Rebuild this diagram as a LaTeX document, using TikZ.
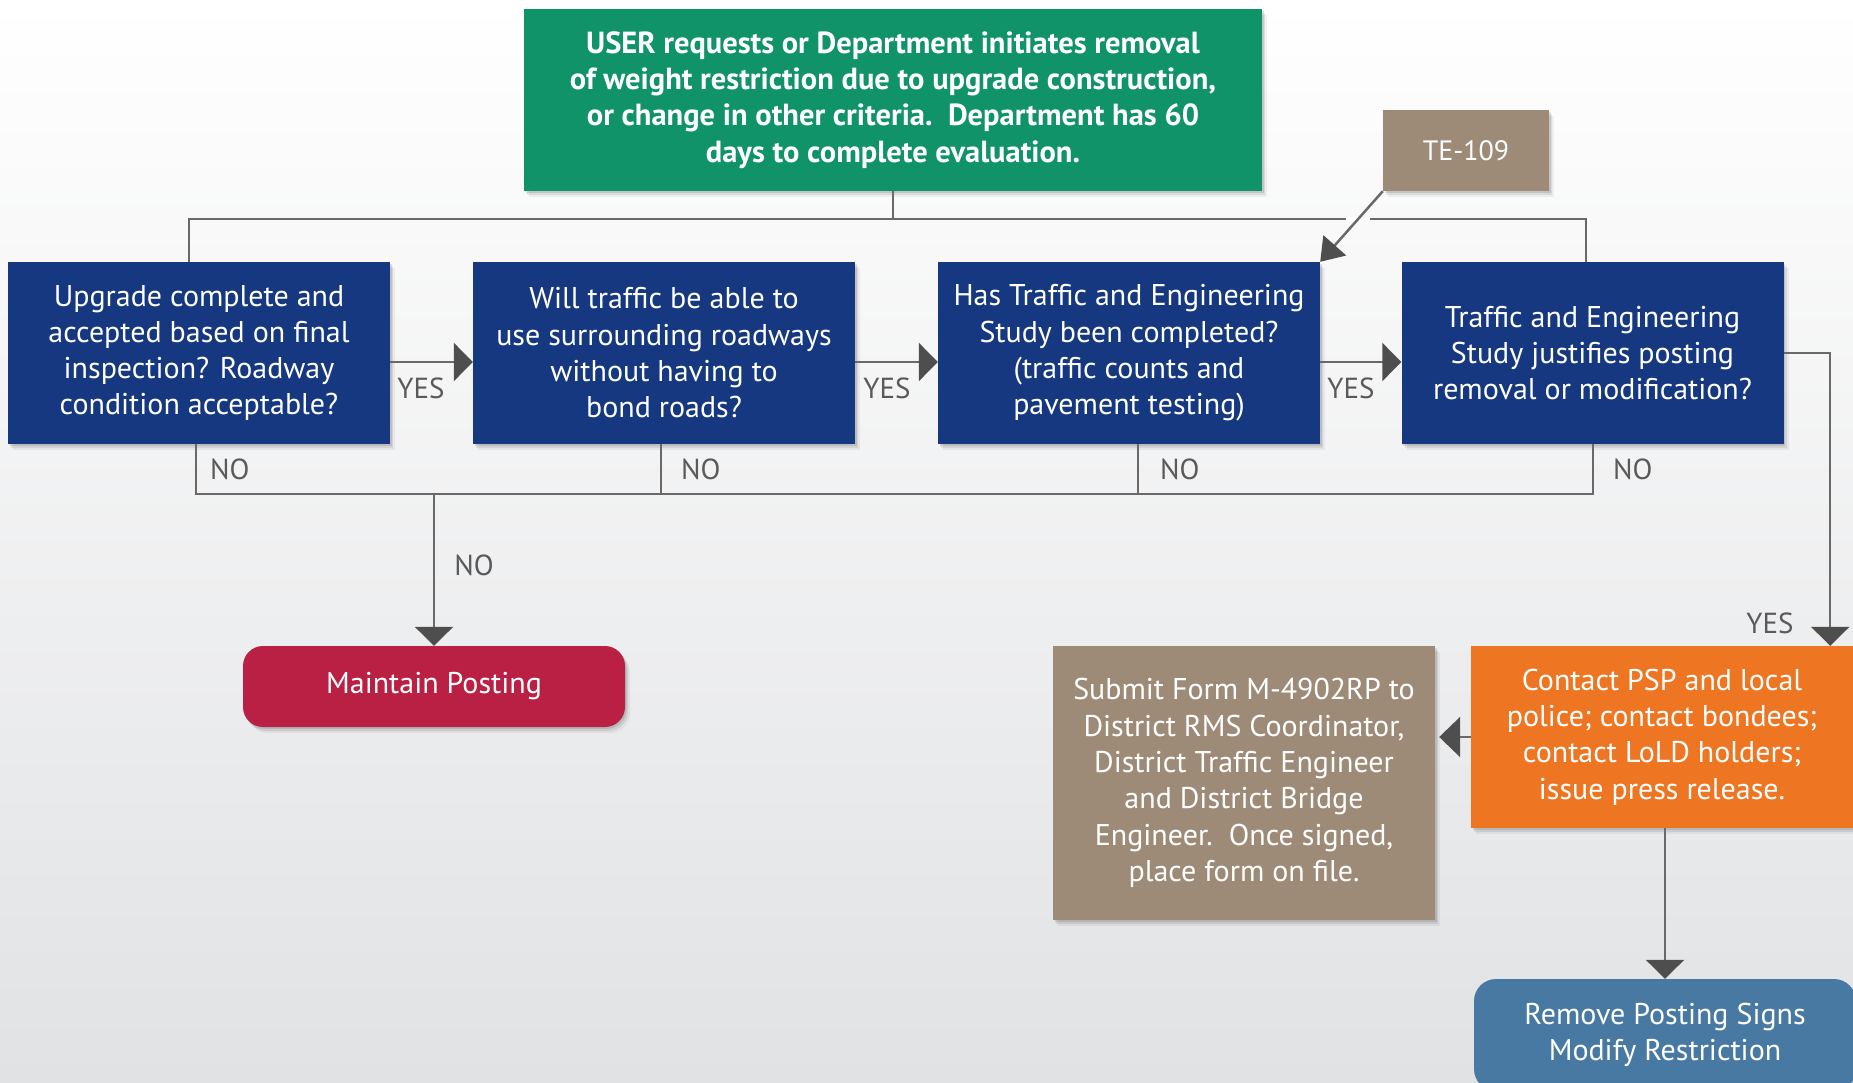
\documentclass[tikz,border=0pt]{standalone}
\usepackage{fontspec}
\setmainfont{PT Sans}
\usetikzlibrary{arrows.meta,shadows,calc}
\definecolor{cgreen}{RGB}{17,147,106}
\definecolor{cblue}{RGB}{22,56,128}
\definecolor{cbrown}{RGB}{158,139,119}
\definecolor{ccrimson}{RGB}{186,31,68}
\definecolor{corange}{RGB}{238,118,35}
\definecolor{csteel}{RGB}{71,121,163}
\definecolor{cline}{RGB}{105,105,105}
\definecolor{ctip}{RGB}{78,78,78}
\definecolor{clabel}{RGB}{90,90,90}
\definecolor{bgbot}{RGB}{225,226,228}
\definecolor{bgmid}{RGB}{238,239,240}
\tikzset{
  softshadow/.style={
    drop shadow={shadow xshift=1.5pt, shadow yshift=-2pt, opacity=0.10, fill=black},
    drop shadow={shadow xshift=3pt, shadow yshift=-4pt, opacity=0.08, fill=black},
    drop shadow={shadow xshift=5pt, shadow yshift=-6pt, opacity=0.05, fill=black}},
  box/.style={rectangle, draw=none, text=white, align=center, inner sep=0pt,
    minimum width=382pt, minimum height=182pt,
    font=\fontsize{30}{36.3}\selectfont, softshadow},
  conn/.style={draw=cline, line width=2.5pt},
  arr/.style={conn, -{Triangle[length=19pt,width=38pt,color=ctip]}},
  lbl/.style={text=clabel, font=\fontsize{29}{34}\selectfont, inner sep=0pt}
}
\begin{document}
\begin{tikzpicture}[x=1pt,y=-1pt]
\useasboundingbox (0,0) rectangle (1853,1082);
\clip (0,0) rectangle (1853,1082);
\shade[top color=white, middle color=bgmid, bottom color=bgbot] (0,0) rectangle (1853,1082);

% nodes
\node[box, fill=cgreen, minimum width=738pt, font=\bfseries\fontsize{30.5}{36.3}\selectfont] (green) at (893,100)
  {USER requests or Department initiates removal\\of weight restriction due to upgrade construction,\\or change in other criteria.\ \ Department has 60\\days to complete evaluation.};
\node[box, fill=cbrown, minimum width=166pt, minimum height=81pt, font=\fontsize{28}{34}\selectfont] (te) at (1466,150.5) {TE-109};
\node[box, fill=cblue] (b1) at (199,353) {Upgrade complete and\\accepted based on final\\inspection? Roadway\\condition acceptable?};
\node[box, fill=cblue] (b2) at (664,353) {Will traffic be able to\\use surrounding roadways\\without having to\\bond roads?};
\node[box, fill=cblue] (b3) at (1129,353) {Has Traffic and Engineering\\Study been completed?\\(traffic counts and\\pavement testing)};
\node[box, fill=cblue] (b4) at (1592.5,353) {Traffic and Engineering\\Study justifies posting\\removal or modification?};
\node[box, fill=ccrimson, rounded corners=20pt, minimum height=81pt] (mp) at (434,686.5) {Maintain Posting};
\node[box, fill=cbrown, minimum height=274pt] (sub) at (1244,783) {Submit Form M-4902RP to\\District RMS Coordinator,\\District Traffic Engineer\\and District Bridge\\Engineer.\ \ Once signed,\\place form on file.};
\node[box, fill=corange] (or) at (1662,737) {Contact PSP and local\\police; contact bondees;\\contact LoLD holders;\\issue press release.};
\node[box, fill=csteel, rounded corners=22pt, minimum height=112pt] (rm) at (1665,1035) {Remove Posting Signs\\Modify Restriction};

% top distribution
\draw[conn] (green.south) -- ++(0,28) coordinate (tj);
\draw[conn] (tj) -| ($(b1.north)+(-10,0)$);
\draw[conn] (tj) -| ($(b4.north)+(-6.5,0)$);
\draw[white, line width=4pt] (1346,219) -- (1370,219);
\draw[conn, -{Triangle[length=22pt,width=30pt,color=ctip]}] (te.south west) -- (b3.north east);

% YES arrows
\draw[arr] ($(b1.east)+(0,9)$) -- ($(b2.west)+(0,9)$);
\draw[arr] ($(b2.east)+(0,9)$) -- ($(b3.west)+(0,9)$);
\draw[arr] ($(b3.east)+(0,9)$) -- ($(b4.west)+(0,9)$);
\node[lbl] (y1) at (421,388) {YES};
\node[lbl] (y2) at (887,388) {YES};
\node[lbl] (y3) at (1351,388) {YES};

% NO bus
\coordinate (bus) at (0,494);
\draw[conn] ($(b1.south)+(-3,0)$) |- ($(b4.south)+(0.5,50)$) -- ($(b4.south)+(0.5,0)$);
\draw[conn] ($(b2.south)+(-3,0)$) -- ++(0,50);
\draw[conn] ($(b3.south)+(9,0)$) -- ++(0,50);
\node[lbl, anchor=west] (n1) at (210,469) {NO};
\node[lbl, anchor=west] (n2) at (681,469) {NO};
\node[lbl, anchor=west] (n3) at (1160,469) {NO};
\node[lbl, anchor=west] (n4) at (1613,469) {NO};
\draw[arr] (mp.north |- bus) -- (mp.north);
\node[lbl] (n5) at (474,565) {NO};

% YES to orange
\draw[arr] (b4.east) -| ($(or.north east)+(-23,0)$);
\node[lbl] (y4) at (1770,623) {YES};

% orange to others
\draw[arr, -{Triangle[length=21pt,width=40pt,color=ctip]}, shorten >=4pt] (or.west) -- (or.west -| sub.east);
\draw[arr] (or.south -| rm.north) -- (rm.north);
\end{tikzpicture}
\end{document}
